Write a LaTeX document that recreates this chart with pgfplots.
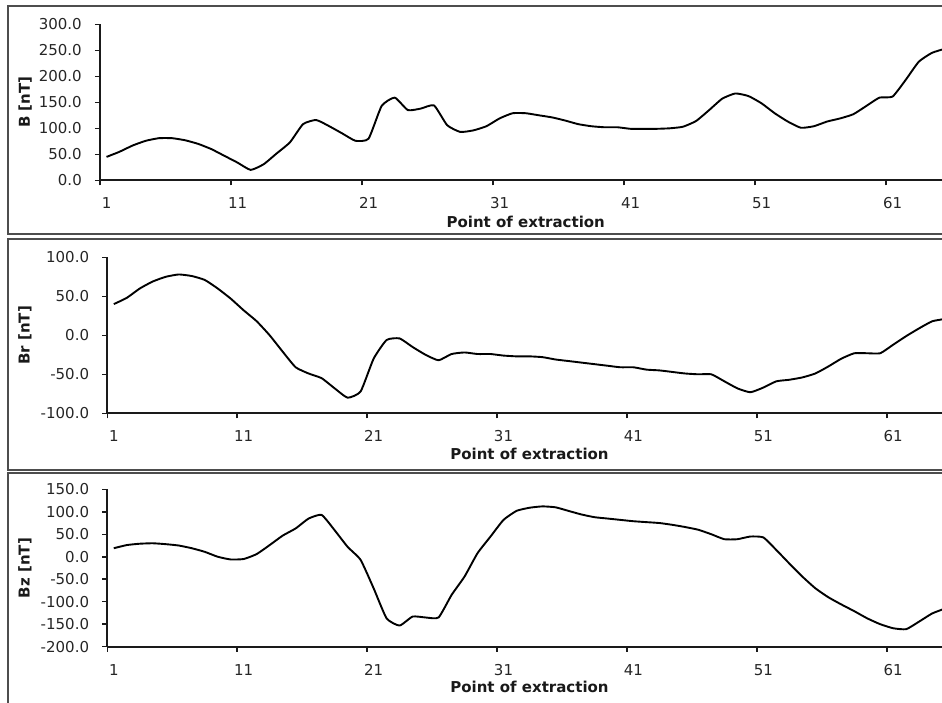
\documentclass[border=0pt]{standalone}
\usepackage{fontspec}
\setmainfont{DejaVu Sans}
\usepackage{pgfplots}
\usepackage{pgfplotstable}
\pgfplotsset{compat=1.18}

% field components along the extraction points (B, Br, Bz in nT)
\pgfplotstableread{
k B Br Bz
1 45 40 19
2 55 48 26
3 67 60 29
4 76 69 30
5 81 75 28
6 81 78 25
7 77 76 19
8 70 71 11
9 60 60 0
10 47 47 -6
11 34 32 -5
12 20 18 6
13 31 0 26
14 52 -21 47
15 73 -41 63
16 108 -49 85
17 116 -55 93
18 104 -68 59
19 90 -80 22
20 76 -72 -7
21 80 -30 -70
22 143 -6 -137
23 159 -4 -153
24 135 -15 -133
25 138 -25 -135
26 144 -32 -135
27 106 -24 -85
28 93 -22 -44
29 96 -24 8
30 104 -24 45
31 119 -26 82
32 129 -27 102
33 129 -27 109
34 125 -28 112
35 121 -31 110
36 115 -33 102
37 108 -35 94
38 104 -37 88
39 102 -39 85
40 102 -41 82
41 99 -41 79
42 99 -44 77
43 99 -45 75
44 100 -47 71
45 103 -49 66
46 114 -50 60
47 135 -50 50
48 157 -59 39
49 167 -68 39
50 162 -73 45
51 148 -67 43
52 129 -59 15
53 113 -57 -15
54 101 -54 -44
55 104 -49 -70
56 113 -40 -90
57 119 -30 -106
58 127 -23 -121
59 143 -23 -137
60 159 -23 -150
61 161 -12 -159
62 193 -1 -161
63 228 9 -144
64 245 18 -126
65 253 21 -115
}\fielddata

\definecolor{framegray}{HTML}{4D4D4D}
\definecolor{axisblack}{HTML}{1A1A1A}

\pgfplotsset{
  panel/.style={
    scale only axis,
    axis lines*=left,
    axis line style={line width=1.8pt, color=axisblack},
    xmin=0.5, xmax=65.5,
    xtick={0.5,10.5,20.5,30.5,40.5,50.5,60.5},
    xticklabels={},
    extra x ticks={1,11,21,31,41,51,61},
    extra x tick labels={1,11,21,31,41,51,61},
    extra x tick style={major tick length=0pt},
    tick align=outside,
    major tick length=5pt,
    tick style={line width=1.5pt, color=axisblack},
    tick label style={font=\fontsize{15}{18}\selectfont, color=black!85},
    xticklabel style={anchor=center, yshift=-23pt},
    yticklabel style={anchor=east, inner sep=0pt, xshift=-13pt},
    label style={font=\fontsize{15}{18}\selectfont\bfseries, color=black!90},
    xlabel={Point of extraction},
  },
  curve/.style={black, line width=1.9pt, line join=round, no markers, smooth, tension=0.3},
}

\begin{document}
\begin{tikzpicture}
  \path[use as bounding box] (0pt,0pt) rectangle (942pt,702pt);
  \clip (0pt,0pt) rectangle (942pt,702pt);

  % panel frames
  \draw[framegray, line width=2pt] (8.3pt,467.7pt) rectangle (980pt,696pt);
  \draw[framegray, line width=2pt] (8.3pt,231.7pt) rectangle (980pt,463.2pt);
  \draw[framegray, line width=2pt] (8.3pt,-20pt) rectangle (980pt,229pt);

  % B
  \begin{axis}[panel,
    at={(100pt,521.7pt)}, anchor=south west,
    width=851.5pt, height=156pt,
    ymin=0, ymax=300,
    ytick={0,50,100,150,200,250,300},
    yticklabels={0.0,50.0,100.0,150.0,200.0,250.0,300.0},
    ylabel={B [nT]},
    ylabel style={at={(axis description cs:-0.088,0.5)}, anchor=center},
    xlabel style={at={(axis description cs:0.5,-0.265)}, anchor=center},
  ]
    \addplot[curve] table[x=k, y=B] {\fielddata};
  \end{axis}

  % Br
  \begin{axis}[panel,
    at={(107.3pt,288.7pt)}, anchor=south west,
    width=844.4pt, height=156pt,
    ymin=-100, ymax=100,
    ytick={-100,-50,0,50,100},
    yticklabels={-100.0,-50.0,0.0,50.0,100.0},
    ylabel={Br [nT]},
    ylabel style={at={(axis description cs:-0.0975,0.5)}, anchor=center},
    xlabel style={at={(axis description cs:0.5,-0.262)}, anchor=center},
  ]
    \addplot[curve] table[x=k, y=Br] {\fielddata};
  \end{axis}

  % Bz
  \begin{axis}[panel,
    at={(107.3pt,55.3pt)}, anchor=south west,
    width=844.4pt, height=157.4pt,
    ymin=-200, ymax=150,
    ytick={-200,-150,-100,-50,0,50,100,150},
    yticklabels={-200.0,-150.0,-100.0,-50.0,0.0,50.0,100.0,150.0},
    ylabel={Bz [nT]},
    ylabel style={at={(axis description cs:-0.0975,0.5)}, anchor=center},
    xlabel style={at={(axis description cs:0.5,-0.256)}, anchor=center},
  ]
    \addplot[curve] table[x=k, y=Bz] {\fielddata};
  \end{axis}
\end{tikzpicture}
\end{document}
